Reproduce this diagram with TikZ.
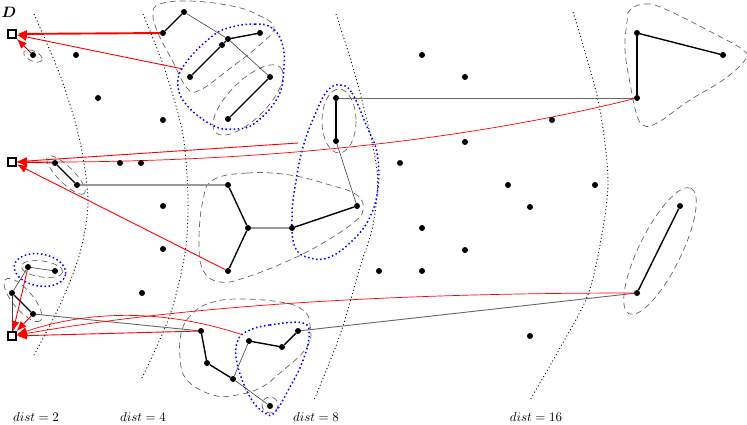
\documentclass[tikz,border=0pt]{standalone}
\usepackage{bm}
\usetikzlibrary{arrows.meta,shapes.geometric}
\pgfdeclarelayer{bg}
\pgfsetlayers{bg,main}
\begin{document}
\begin{tikzpicture}[x=1pt,y=-1pt,
 vtx/.style={circle,fill=black,inner sep=0pt,minimum size=6pt},
 sq/.style={rectangle,draw=black,fill=white,line width=1.7pt,inner sep=0pt,minimum size=8pt},
 thk/.style={line width=1.4pt,black},
 thn/.style={line width=0.6pt,black!75},
 mgr/.style={line width=0.9pt,black!60},
 lgr/.style={line width=1.3pt,black!40},
 dsh/.style={black!60,line width=0.7pt,dash pattern=on 6pt off 4pt},
 bld/.style={blue,line width=1.5pt,dash pattern=on 1.5pt off 2.6pt},
 distarc/.style={black,line width=0.9pt,dash pattern=on 1pt off 2.6pt},
 rarr/.style={red,line width=0.9pt,-{Latex[length=10pt,width=8pt]}},
 darr/.style={red!65!black,line width=0.9pt,-{Latex[length=10pt,width=8pt,fill=red,color=red]}},
 lbl/.style={scale=1.3},
 dlbl/.style={scale=1.5}
]
\useasboundingbox (0,0) rectangle (747,424);

% ---------- nodes ----------
\node[sq] (D1) at (12,34) {};
\node[sq] (D2) at (12,162) {};
\node[sq] (D3) at (12,336) {};
\node[dlbl] (Dl) at (9,12) {$\bm{D}$};

\node[vtx] (p1) at (33,55) {};
\node[vtx] (A1) at (163,33) {};
\node[vtx] (A2) at (184,12) {};
\node[vtx] (A3) at (228,39) {};
\node[vtx] (A4) at (260,33) {};
\node[vtx] (A5) at (222,45) {};
\node[vtx] (A6) at (190,77) {};
\node[vtx] (A7) at (270,77) {};
\node[vtx] (A8) at (228,119) {};
\node[vtx] (B1) at (55,163) {};
\node[vtx] (B2) at (77,185) {};
\node[vtx] (C1) at (228,185) {};
\node[vtx] (C2) at (248,228) {};
\node[vtx] (C3) at (228,271) {};
\node[vtx] (C4) at (292,228) {};
\node[vtx] (C5) at (357,206) {};
\node[vtx] (E1) at (336,98) {};
\node[vtx] (E2) at (336,141) {};
\node[vtx] (F1) at (637,98) {};
\node[vtx] (F2) at (723,55) {};
\node[vtx] (F3) at (637,33) {};
\node[vtx] (G1) at (637,293) {};
\node[vtx] (G2) at (680,206) {};
\node[vtx] (H1) at (201,331) {};
\node[vtx] (H2) at (207,363) {};
\node[vtx] (H3) at (233,379) {};
\node[vtx] (H4) at (249,341) {};
\node[vtx] (H5) at (282,347) {};
\node[vtx] (H6) at (298,331) {};
\node[vtx] (H7) at (270,406) {};
\node[vtx] (J1) at (28,267) {};
\node[vtx] (J2) at (55,271) {};
\node[vtx] (K1) at (12,293) {};
\node[vtx] (K2) at (33,314) {};
\foreach \p [count=\i] in {(76,55),(98,98),(163,120),(120,163),(141,163),(163,206),(163,249),(142,293),
  (422,55),(465,77),(552,120),(465,142),(400,163),(508,185),(595,185),(530,207),(422,228),(465,250),
  (379,271),(422,271),(530,336)}
  \node[vtx] (f\i) at \p {};

\coordinate (ab) at (183,69);
\coordinate (eb) at (298,143);
\coordinate (hb) at (243,335);

% ---------- labels ----------
\node[lbl] (l2) at (36,417) {$dist = 2$};
\node[lbl] (l4) at (143,417) {$dist = 4$};
\node[lbl] (l8) at (316,417) {$dist = 8$};
\node[lbl] (l16) at (536,417) {$dist = 16$};

\begin{pgfonlayer}{bg}
% ---------- distance arcs ----------
\draw[distarc] plot[smooth] coordinates {(34,14) (60,75) (79,137) (88,200) (80,253) (60,305) (33,357)};
\draw[distarc] plot[smooth] coordinates {(143,14) (165,70) (183,135) (188,200) (185,253) (170,315) (142,378)};
\draw[distarc] plot[smooth] coordinates {(336,14) (358,85) (377,170) (373,225) (360,267) (340,335) (314,400)};
\draw[distarc] plot[smooth] coordinates {(573,12) (598,100) (608,180) (600,245) (587,297) (560,348) (530,400)};

% ---------- dashed clusters ----------
\draw[dsh, rotate around={-25:(33,56)}] (33,56) ellipse [x radius=10, y radius=5];
\draw[dsh] plot[smooth cycle, tension=0.7] coordinates {(160,4) (190,1) (232,6) (258,15) (274,27) (262,43) (228,70) (200,90) (187,88) (172,60) (158,33) (153,14)};
\draw[dsh, rotate around={45:(248,100)}] (248,100) ellipse [x radius=46, y radius=19];
\draw[dsh, rotate around={-45:(66,175)}] (66,175) ellipse [x radius=26, y radius=8];
\draw[dsh] plot[smooth cycle, tension=0.7] coordinates {(213,180) (247,173) (290,175) (330,185) (357,195) (363,210) (353,223) (323,243) (290,260) (247,277) (220,282) (203,270) (199,240) (203,200)};
\draw[dsh] (339,121) ellipse [x radius=17, y radius=32];
\draw[dsh] plot[smooth cycle, tension=0.7] coordinates {(630,10) (645,4) (665,9) (713,33) (743,50) (745,60) (723,80) (690,100) (657,123) (643,125) (636,112) (630,83) (625,50) (627,22)};
\draw[dsh, rotate around={63.7:(660,251)}] (660,251) ellipse [x radius=70, y radius=21];
\draw[dsh] plot[smooth cycle, tension=0.7] coordinates {(193,313) (210,303) (237,299) (280,302) (303,310) (310,325) (307,347) (280,373) (260,388) (237,395) (213,395) (187,380) (180,357) (182,330)};
\draw[dsh] (270,405) circle [radius=8];
\draw[dsh, rotate around={-8:(42,269)}] (42,269) ellipse [x radius=21, y radius=8];
\draw[dsh, rotate around={-50:(23,300)}] (23,300) ellipse [x radius=27, y radius=10];

% ---------- blue dotted clusters ----------
\draw[bld] plot[smooth cycle, tension=0.7] coordinates {(228,28) (255,24) (272,28) (282,43) (284,67) (278,97) (255,123) (235,129) (212,125) (185,103) (178,80) (188,60) (210,38)};
\draw[bld] plot[smooth cycle, tension=0.7] coordinates {(340,85) (352,93) (367,127) (377,153) (378,187) (370,217) (353,240) (330,257) (310,258) (295,247) (292,217) (295,187) (303,147) (317,110) (328,90)};
\draw[bld] plot[smooth cycle, tension=0.7] coordinates {(250,330) (270,325) (303,323) (309,337) (302,363) (290,387) (275,412) (265,413) (250,397) (237,363) (238,340)};
\draw[bld, rotate around={-10:(40,270)}] (40,270) ellipse [x radius=26, y radius=16];

% ---------- gray connectors ----------
\draw[thn] (A2) -- (A3);
\draw[thn] (A3) -- (A7);
\draw[thn] (C5) -- (E2);
\draw[thn] (H3) -- (H4);
\draw[thn] (H3) -- (H7);
\draw[thn] (J1) -- (J2);
\draw[thn] (J1) -- (K1);
\draw[thn] (K1) -- (D3);
\draw[mgr] (E1) -- (F1);
\draw[mgr] (H6) -- (G1);
\draw[mgr] (K2) -- (H1);
\draw[lgr] (B2) -- (C1);
\draw[lgr] (C2) -- (C4);

% ---------- thick edges ----------
\draw[thk] (A1) -- (A2);
\draw[thk] (A3) -- (A4);
\draw[thk] (A6) -- (A5);
\draw[thk] (A5) -- (A3);
\draw[thk] (A7) -- (A8);
\draw[thk] (B1) -- (B2);
\draw[thk] (C1) -- (C2);
\draw[thk] (C2) -- (C3);
\draw[thk] (C4) -- (C5);
\draw[thk] (E1) -- (E2);
\draw[thk] (F3) -- (F2);
\draw[thk] (F3) -- (F1);
\draw[thk] (G1) -- (G2);
\draw[thk] (H1) -- (H2);
\draw[thk] (H2) -- (H3);
\draw[thk] (H4) -- (H5);
\draw[thk] (H5) -- (H6);
\draw[thk] (K1) -- (K2);

% ---------- red arrows ----------
\draw[rarr, line width=1.9pt] (A1) -- (D1);
\draw[rarr] (ab) -- (D1);
\draw[darr] (p1) -- (D1);
\draw[darr] (B1) -- (D2);
\draw[rarr, line width=0.7pt] (F1) .. controls (464,141) and (258,163) .. (D2);
\draw[rarr] (eb) -- (D2);
\draw[rarr] (C3) -- (D2);
\draw[rarr] (J1) -- (D3);
\draw[rarr] (K2) -- (D3);
\draw[rarr] (H1) -- (D3);
\draw[rarr, line width=0.7pt] (hb) .. controls (168,310) and (93,309) .. (D3);
\draw[rarr, line width=0.7pt] (G1) .. controls (388,293) and (183,306) .. (D3);
\end{pgfonlayer}
\end{tikzpicture}
\end{document}
